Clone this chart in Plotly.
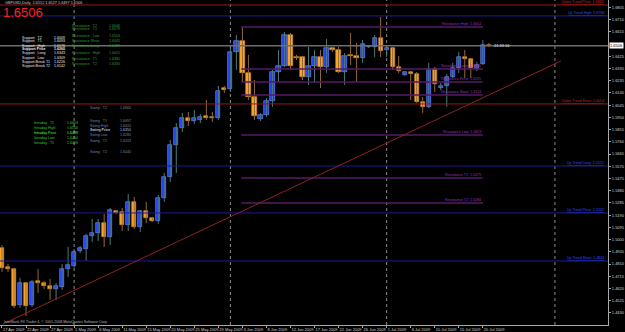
import plotly.graph_objects as go

# ---------------- data ----------------
opens = [1.4935, 1.4787, 1.4772, 1.4492, 1.4663, 1.4492, 1.4679, 1.4663, 1.4640, 1.4617,
         1.4632, 1.4772, 1.4795, 1.4912, 1.4927, 1.5028, 1.5052, 1.5129, 1.5021, 1.5223,
         1.5215, 1.5114, 1.5293, 1.5098, 1.5223, 1.5168, 1.5145, 1.5324, 1.5487, 1.5735,
         1.5867, 1.5945, 1.5922, 1.5930, 1.5961, 1.5953, 1.5945, 1.6178, 1.6170, 1.6458,
         1.6543, 1.6295, 1.6108, 1.5937, 1.5968, 1.6077, 1.6303, 1.6349, 1.6590, 1.6419,
         1.6419, 1.6264, 1.6349, 1.6419, 1.6342, 1.6489, 1.6473, 1.6303, 1.6435, 1.6427,
         1.6411, 1.6497, 1.6497, 1.6567, 1.6473, 1.6489, 1.6342, 1.6279, 1.6303, 1.6287,
         1.6069, 1.6031, 1.6326, 1.6178, 1.6194, 1.6264, 1.6334, 1.6419, 1.6404, 1.6326,
         1.6365, 1.6512]
highs = [1.4958, 1.4811, 1.4780, 1.4702, 1.4671, 1.4686, 1.4772, 1.4679, 1.4694, 1.4663,
         1.4811, 1.4943, 1.4927, 1.4951, 1.5044, 1.5160, 1.5160, 1.5199, 1.5246, 1.5230,
         1.5246, 1.5355, 1.5331, 1.5230, 1.5293, 1.5176, 1.5347, 1.5518, 1.5774, 1.5906,
         1.5984, 1.5992, 1.6007, 1.5976, 1.6085, 1.5992, 1.6194, 1.6194, 1.6489, 1.6590,
         1.6652, 1.6435, 1.6240, 1.5984, 1.6100, 1.6318, 1.6473, 1.6613, 1.6606, 1.6435,
         1.6427, 1.6497, 1.6473, 1.6473, 1.6559, 1.6497, 1.6497, 1.6450, 1.6606, 1.6528,
         1.6551, 1.6512, 1.6590, 1.6730, 1.6497, 1.6497, 1.6427, 1.6310, 1.6310, 1.6303,
         1.6108, 1.6373, 1.6342, 1.6217, 1.6287, 1.6373, 1.6458, 1.6473, 1.6411, 1.6380,
         1.6551, 1.6527]
lows = [1.4749, 1.4749, 1.4469, 1.4469, 1.4407, 1.4477, 1.4586, 1.4617, 1.4531, 1.4531,
        1.4609, 1.4710, 1.4780, 1.4896, 1.4834, 1.4982, 1.4989, 1.4943, 1.4958, 1.5199,
        1.5067, 1.5067, 1.5083, 1.5059, 1.5129, 1.5137, 1.5122, 1.5293, 1.5448, 1.5518,
        1.5836, 1.5883, 1.5899, 1.5906, 1.5930, 1.5914, 1.5930, 1.6139, 1.6147, 1.6318,
        1.6225, 1.6085, 1.5930, 1.5922, 1.5953, 1.6031, 1.6225, 1.6342, 1.6318, 1.6396,
        1.6240, 1.6202, 1.6217, 1.6178, 1.6295, 1.6458, 1.6295, 1.6202, 1.6357, 1.6225,
        1.6373, 1.6489, 1.6419, 1.6419, 1.6419, 1.6318, 1.6295, 1.6272, 1.6085, 1.6062,
        1.5984, 1.6023, 1.6147, 1.6163, 1.6031, 1.6256, 1.6295, 1.6256, 1.6256, 1.6310,
        1.6357, 1.6497]
closes = [1.4780, 1.4772, 1.4484, 1.4663, 1.4484, 1.4671, 1.4663, 1.4640, 1.4617, 1.4640,
          1.4772, 1.4803, 1.4904, 1.4935, 1.5028, 1.5052, 1.5129, 1.5021, 1.5230, 1.5207,
          1.5114, 1.5293, 1.5098, 1.5223, 1.5168, 1.5145, 1.5324, 1.5487, 1.5735, 1.5867,
          1.5945, 1.5922, 1.5945, 1.5953, 1.5945, 1.5945, 1.6155, 1.6163, 1.6458, 1.6543,
          1.6295, 1.6108, 1.5961, 1.5968, 1.6077, 1.6303, 1.6349, 1.6590, 1.6349, 1.6411,
          1.6264, 1.6349, 1.6419, 1.6342, 1.6489, 1.6473, 1.6303, 1.6427, 1.6427, 1.6411,
          1.6520, 1.6504, 1.6567, 1.6466, 1.6489, 1.6342, 1.6310, 1.6303, 1.6287, 1.6069,
          1.6031, 1.6326, 1.6209, 1.6194, 1.6264, 1.6334, 1.6419, 1.6404, 1.6334, 1.6357,
          1.6512, 1.6506]

tick_dates = ["17 Apr 2009", "22 Apr 2009", "27 Apr 2009", "1 May 2009", "6 May 2009",
              "11 May 2009", "15 May 2009", "20 May 2009", "25 May 2009", "29 May 2009",
              "3 Jun 2009", "8 Jun 2009", "12 Jun 2009", "17 Jun 2009", "22 Jun 2009",
              "26 Jun 2009", "1 Jul 2009", "6 Jul 2009", "10 Jul 2009", "15 Jul 2009",
              "20 Jul 2009"]
price_ticks = [1.6805, 1.6710, 1.6615, 1.6425, 1.6330, 1.6235, 1.6140, 1.6045, 1.5950,
               1.5855, 1.5760, 1.5665, 1.5570, 1.5475, 1.5380, 1.5285, 1.5190, 1.5095,
               1.5000, 1.4905, 1.4810, 1.4715, 1.4620, 1.4525, 1.4430]

month_separators = [12, 38, 64, 92]          # bar index of month starts
trend_x = [0.17, 93.0]
trend_y = [1.4345, 1.6388]

level_names = ["Down Trend Price", "Up Trend High", "Down Trend Short",
               "Up Trend Long", "Up Trend Price", "Up Trend Short"]
level_values = [1.6823, 1.6738, 1.6054, 1.5572, 1.5207, 1.4834]
level_kind = ["down", "up", "down", "up", "up", "up"]

pivot_names = ["Resistance High", "Resistance Long", "Resistance Price", "Resistance Short",
               "Resistance Low", "Resistance T1", "Resistance T2"]
pivot_values = [1.6652, 1.6326, 1.6225, 1.6124, 1.5813, 1.5479, 1.5284]
pivot_start, pivot_end = 39.8, 80.0

support_names = ["Support   T2", "Support   T1", "Support   High", "Support Price",
                 "Support   Long", "Support   Low", "Support Break T1", "Support Break T2"]
support_vals = ["1.6009", "1.6093", "1.6176", "1.6260", "1.6343", "1.6309", "1.6226", "1.6142"]
resist_names = ["Resistance   T2", "Resistance   T1", "Resistance   Low", "Resistance Short",
                "Resistance Long", "Resistance   High", "Resistance   T1", "Resistance   T2"]
resist_vals = ["1.6646", "1.6579", "1.6504", "1.6445", "1.6429", "1.6415", "1.6380", "1.6330"]
intraday_names = ["Intraday   T1", "Intraday High", "Intraday Price", "Intraday Low", "Intraday   T1"]
intraday_vals = ["1.6603", "1.6556", "1.6489", "1.6450", "1.6409"]
swing_names = ["Swing   T2", "Swing   T1", "Swing High", "Swing Price", "Swing Low", "Swing   T1", "Swing   T2"]
swing_vals = ["1.6660", "1.6497", "1.6420", "1.6350", "1.6280", "1.6203", "1.6040"]

symbol = "GBPUSD,Daily"
timer_text = "21:33:16"

# ---------------- figure ----------------
W, H = 625, 332
PL, PR, PT, PB = 0, 15, 0, 7
PW, PH = W - PL - PR, H - PT - PB
FONT = "Liberation Sans, Arial, sans-serif"

n = len(opens)
idx = list(range(n))
bull = [c >= o for o, c in zip(opens, closes)]

fig = go.Figure()

# wicks
for want, col in ((True, "#4d7b78"), (False, "#8f6a3a")):
    xs, ys = [], []
    for i in idx:
        if bull[i] == want:
            xs += [i, i, None]
            ys += [lows[i], highs[i], None]
    fig.add_trace(go.Scatter(x=xs, y=ys, mode="lines", line=dict(color=col, width=1),
                             hoverinfo="skip"))

# bodies
base = [min(o, c) for o, c in zip(opens, closes)]
hgt = [max(abs(c - o), 0.0007) for o, c in zip(opens, closes)]
fig.add_trace(go.Bar(
    x=idx, y=hgt, base=base, width=0.7,
    marker=dict(color=["#1f3cff" if b else "#ffa628" for b in bull],
                line=dict(color=["#7f9aff" if b else "#e08a1c" for b in bull], width=0.6)),
    hoverinfo="skip"))

shapes = []
for s in month_separators:
    shapes.append(dict(type="line", xref="x", yref="paper", x0=s, x1=s, y0=0, y1=1,
                       line=dict(color="#8c8c8c", width=1, dash="dot"), layer="below"))
for v, k in zip(level_values, level_kind):
    shapes.append(dict(type="line", xref="paper", yref="y", x0=0, x1=1, y0=v, y1=v,
                       line=dict(color="#8b1c1c" if k == "down" else "#1c1c96", width=1),
                       layer="above"))
for v in pivot_values:
    shapes.append(dict(type="line", xref="x", yref="y", x0=pivot_start, x1=pivot_end, y0=v, y1=v,
                       line=dict(color="#561a66", width=1.5), layer="above"))
# current price line
shapes.append(dict(type="line", xref="paper", yref="y", x0=0, x1=1, y0=closes[-1], y1=closes[-1],
                   line=dict(color="#6e6e6e", width=1.5), layer="above"))
# trend line
shapes.append(dict(type="line", xref="x", yref="y", x0=trend_x[0], x1=trend_x[1],
                   y0=trend_y[0], y1=trend_y[1], line=dict(color="#8f2222", width=1), layer="above"))

ann = []


def px_text(px, py, text, color, size=3.6, anchor="left"):
    ann.append(dict(xref="paper", yref="paper", x=px / PW, y=1 - py / PH, text=text,
                    showarrow=False, xanchor=anchor, yanchor="middle",
                    font=dict(family=FONT, size=size, color=color)))


# header
px_text(3, 3, f"{symbol}  {opens[-1]:.4f} {highs[-1]:.4f} {lows[-1]:.4f} {closes[-1]:.4f}",
        "#c8c8c8", 3.8)
px_text(1, 12, f"{closes[-1]:.4f}", "#ff2020", 13)

# top-left tables
sup_y = [37.5, 41.5, 45.5, 49.5, 53, 58, 62, 66]
for nme, val, yy in zip(support_names, support_vals, sup_y):
    bold = "Price" in nme
    t1 = f"<b>{nme}</b>" if bold else nme
    t2 = f"<b>{val}</b>" if bold else val
    px_text(20, yy, t1, "#e8e8e8")
    px_text(52, yy, t2, "#e8e8e8")
res_y = [25.5, 29.5, 36, 41.5, 46, 53, 59, 63.5]
for nme, val, yy in zip(resist_names, resist_vals, res_y):
    px_text(70, yy, nme, "#2f9a2f")
    px_text(107, yy, val, "#2f9a2f")
intra_y = [123, 128, 133, 138, 142.5]
for nme, val, yy in zip(intraday_names, intraday_vals, intra_y):
    c = "#55ff55" if "Price" in nme else "#2fc82f"
    px_text(32, yy, nme, c)
    px_text(65, yy, val, c)
swing_y = [108, 121, 125.5, 130, 134.5, 141, 152]
for nme, val, yy in zip(swing_names, swing_vals, swing_y):
    c = "#a8c0e8" if "Price" in nme else "#6f86a8"
    t1 = f"<b>{nme}</b>" if "Price" in nme else nme
    px_text(88, yy, t1, c)
    px_text(118, yy, val, c)

# level labels (right aligned at right edge)
for nme, v, k in zip(level_names, level_values, level_kind):
    ann.append(dict(xref="paper", yref="y", x=0.997, y=v, yshift=3, showarrow=False,
                    xanchor="right", yanchor="middle", text=f"<u>{nme}: {v:.4f}</u>",
                    font=dict(family=FONT, size=3.6, color="#c82020" if k == "down" else "#2a4cff")))
for nme, v in zip(pivot_names, pivot_values):
    ann.append(dict(xref="x", yref="y", x=pivot_end, y=v, yshift=3, showarrow=False,
                    xanchor="right", yanchor="middle", text=f"{nme}: {v:.4f}",
                    font=dict(family=FONT, size=3.6, color="#9a34b4")))

# timer next to last bar
ann.append(dict(xref="x", yref="y", x=n - 1 + 0.6, y=closes[-1], showarrow=False,
                xanchor="left", yanchor="middle", text=timer_text,
                font=dict(family=FONT, size=4, color="#e8e8e8")))
# price box on axis
ann.append(dict(xref="paper", yref="y", x=1.0, y=closes[-1], xshift=1, showarrow=False,
                xanchor="left", yanchor="middle", text=f"{closes[-1]:.4f}", bgcolor="#ffffff",
                borderpad=0, font=dict(family=FONT, size=4, color="#000000")))
# copyright
px_text(2, 322, "InterBank FX Trader 4, © 2001-2008 MetaQuotes Software Corp.", "#b4b4b4", 3.6)

bar_w = 6.03
x0 = -2 / bar_w
x1 = x0 + PW / bar_w
y_top = 1.68617
y_bot = y_top - 0.000777 * PH

fig.update_layout(
    width=W, height=H, margin=dict(l=PL, r=PR, t=PT, b=PB),
    paper_bgcolor="#000000", plot_bgcolor="#000000", showlegend=False,
    shapes=shapes, annotations=ann, bargap=0,
    xaxis=dict(range=[x0, x1], tickvals=[4 * k for k in range(len(tick_dates))], ticktext=tick_dates,
               tickangle=0, showgrid=False, zeroline=False, showline=True, linecolor="#a8a8a8",
               linewidth=1, ticks="outside", ticklen=2, tickcolor="#a8a8a8",
               ticklabelposition="outside right",
               tickfont=dict(family=FONT, size=4, color="#d0d0d0"), fixedrange=True),
    yaxis=dict(range=[y_bot, y_top], side="right", tickvals=price_ticks,
               ticktext=[f"{t:.4f}" for t in price_ticks],
               showgrid=False, zeroline=False, showline=True, linecolor="#a8a8a8", linewidth=1,
               ticks="outside", ticklen=2, tickcolor="#a8a8a8",
               tickfont=dict(family=FONT, size=4, color="#d0d0d0"), fixedrange=True),
)

fig.write_html("out.html")
